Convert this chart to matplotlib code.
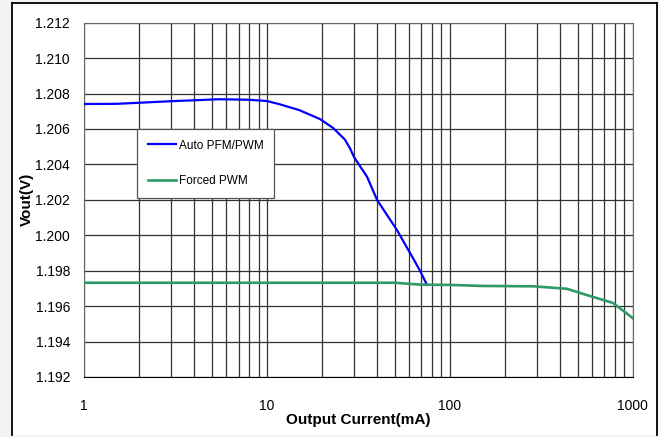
import numpy as np
import matplotlib
matplotlib.use("Agg")
import matplotlib.pyplot as plt
from matplotlib.lines import Line2D
from matplotlib.patches import Rectangle
from matplotlib.ticker import LogLocator, FixedLocator, FixedFormatter, NullFormatter

plt.rcParams["font.family"] = ["Liberation Sans", "DejaVu Sans"]

# Auto PFM/PWM (mA, V)
auto_x = [1, 1.5, 2, 3, 4, 5.5, 8, 10, 11.7, 15, 19.5, 23, 26.7, 28.5, 30,
          35.3, 40, 45, 51.4, 57.6, 63, 68.7, 75]
auto_y = [1.20741, 1.20742, 1.20748, 1.20757, 1.20762, 1.20768, 1.20765,
          1.20758, 1.20740, 1.20707, 1.20656, 1.20606, 1.20540, 1.20490,
          1.20440, 1.20330, 1.20200, 1.20120, 1.20030, 1.19940, 1.19870,
          1.19800, 1.19720]

# Forced PWM
forced_x = [1, 10, 50, 60, 70, 100, 150, 285, 437, 560, 780, 1000]
forced_y = [1.19732, 1.19732, 1.19732, 1.19726, 1.19721, 1.19720, 1.19714,
            1.19712, 1.19698, 1.19663, 1.19618, 1.19533]

y_ticks = [1.192, 1.194, 1.196, 1.198, 1.200, 1.202, 1.204, 1.206, 1.208,
           1.210, 1.212]
x_ticks = [1, 10, 100, 1000]
x_labels = ["1", "10", "100", "1000"]

C = {"auto": "#0000ff", "forced": "#2e9a68", "grid": "#333333"}

fig = plt.figure(figsize=(6.59, 4.37), dpi=100, facecolor="#f3f3f3")

# marco blanco de la figura (detrás de los ejes)
fig.patches.append(Rectangle((12 / 659, 0.004), 645 / 659, 0.989,
                             transform=fig.transFigure, facecolor="white",
                             edgecolor="none", zorder=-2))
for xs, ys in [([12 / 659, 12 / 659], [0.004, 0.993]),
               ([12 / 659, 657 / 659], [0.993, 0.993]),
               ([657 / 659, 657 / 659], [0.004, 0.993])]:
    fig.lines.append(Line2D(xs, ys, transform=fig.transFigure,
                            color="black", lw=1.3, zorder=-1))

ax = fig.add_axes([84 / 659, 60 / 437, 548.7 / 659, 354.3 / 437])
ax.set_facecolor("white")

ax.plot(auto_x, auto_y, color=C["auto"], lw=1.6, label="Auto PFM/PWM",
        zorder=3)
ax.plot(forced_x, forced_y, color=C["forced"], lw=1.9, label="Forced PWM",
        zorder=3)

ax.set_xscale("log")
ax.set_xlim(1, 1000)
ax.set_ylim(1.192, 1.212)

ax.xaxis.set_major_locator(FixedLocator(x_ticks))
ax.xaxis.set_major_formatter(FixedFormatter(x_labels))
ax.xaxis.set_minor_locator(LogLocator(base=10, subs=np.arange(2, 10)))
ax.xaxis.set_minor_formatter(NullFormatter())
ax.set_yticks(y_ticks)
ax.set_yticklabels([f"{v:.3f}" for v in y_ticks])

ax.grid(True, which="major", axis="both", color=C["grid"], lw=0.9)
ax.grid(True, which="minor", axis="x", color=C["grid"], lw=0.9)
ax.tick_params(axis="both", which="both", length=0, labelsize=10)
ax.tick_params(axis="x", pad=16)
ax.tick_params(axis="y", pad=10)

for s in ["left", "top", "right"]:
    ax.spines[s].set_color("#666666")
ax.spines["bottom"].set_color("black")

ax.set_xlabel("Output Current(mA)", fontsize=11, fontweight="bold",
              labelpad=0)
ax.set_ylabel("Vout(V)", fontsize=11, fontweight="bold", labelpad=1)

leg = ax.legend(loc="upper left", bbox_to_anchor=(0.0966, 0.70),
                borderaxespad=0, fontsize=8.5, labelspacing=2.0,
                borderpad=0.9, handlelength=2.4, handletextpad=0.25,
                fancybox=False, shadow=False, framealpha=1)
leg.get_frame().set_edgecolor("#555555")
leg.get_frame().set_linewidth(0.9)

fig.savefig("out.png", dpi=100, facecolor=fig.get_facecolor())
